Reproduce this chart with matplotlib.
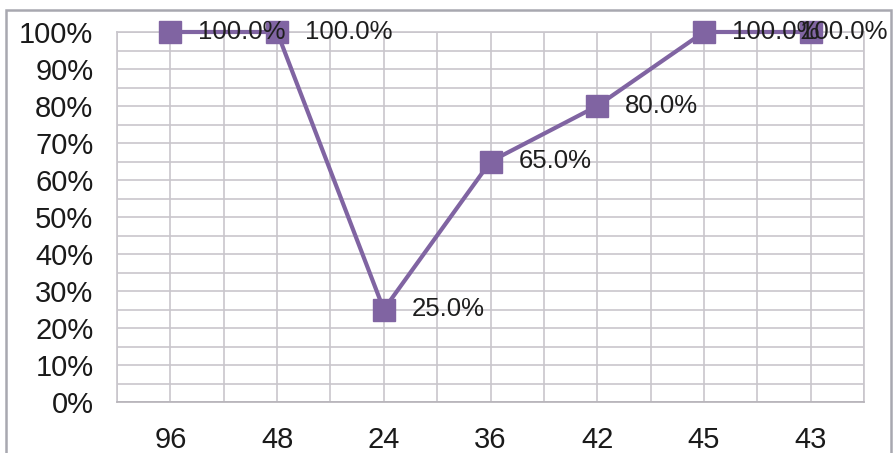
import matplotlib.pyplot as plt
from matplotlib.patches import Rectangle
import numpy as np

categories = ["96", "48", "24", "36", "42", "45", "43"]
values = [100.0, 100.0, 25.0, 65.0, 80.0, 100.0, 100.0]
labels = ["100.0%", "100.0%", "25.0%", "65.0%", "80.0%", "100.0%", "100.0%"]

plt.rcParams["font.family"] = ["Liberation Sans", "DejaVu Sans"]

purple = "#8064A2"
grid_col = "#c9c6cc"

fig = plt.figure(figsize=(8.94, 4.53), dpi=100)
ax = fig.add_axes([117 / 894, 1 - 402 / 453, (864 - 117) / 894, (402 - 32) / 453])

x = np.arange(len(categories))
ax.plot(x, values, color=purple, linewidth=3, marker="s", markersize=15.5,
        markerfacecolor=purple, markeredgecolor=purple, clip_on=False, zorder=3)

for i, (xi, v, lab) in enumerate(zip(x, values, labels)):
    if i == len(x) - 1:
        # last label pushed back inside the chart area, like Excel does
        ax.annotate(lab, (xi, v), xytext=(55, 0), textcoords="offset points",
                    ha="right", va="center", fontsize=18.5, color="#1e1e1e", zorder=4)
    else:
        ax.annotate(lab, (xi, v), xytext=(20, 0), textcoords="offset points",
                    ha="left", va="center", fontsize=18.5, color="#1e1e1e", zorder=4)

ax.set_xlim(-0.5, len(categories) - 0.5)
ax.set_ylim(0, 100)
ax.set_xticks(x)
ax.set_xticklabels(categories)
ax.set_yticks(np.arange(0, 101, 10))
ax.set_yticklabels([f"{v}%" for v in range(0, 101, 10)])
ax.set_xticks(np.arange(-0.5, len(categories), 1.0), minor=True)
ax.set_yticks(np.arange(5, 100, 10), minor=True)
ax.grid(which="both", color=grid_col, linewidth=1.2)
ax.set_axisbelow(True)
ax.tick_params(which="both", length=0)
ax.tick_params(axis="y", labelsize=21, pad=17, labelcolor="#1a1a1a")
ax.tick_params(axis="x", labelsize=21, pad=17, labelcolor="#1a1a1a")
for s in ax.spines.values():
    s.set_color(grid_col)
    s.set_linewidth(1.2)
ax.spines["bottom"].set_color("#b5b2b8")

# outer chart border
fig.patches.append(Rectangle((6 / 894, -0.05), 885 / 894, 1.05 - 10 / 453,
                             transform=fig.transFigure, fill=False,
                             edgecolor="#a8a8b0", linewidth=1.8))

fig.savefig("out.png", dpi=100)
